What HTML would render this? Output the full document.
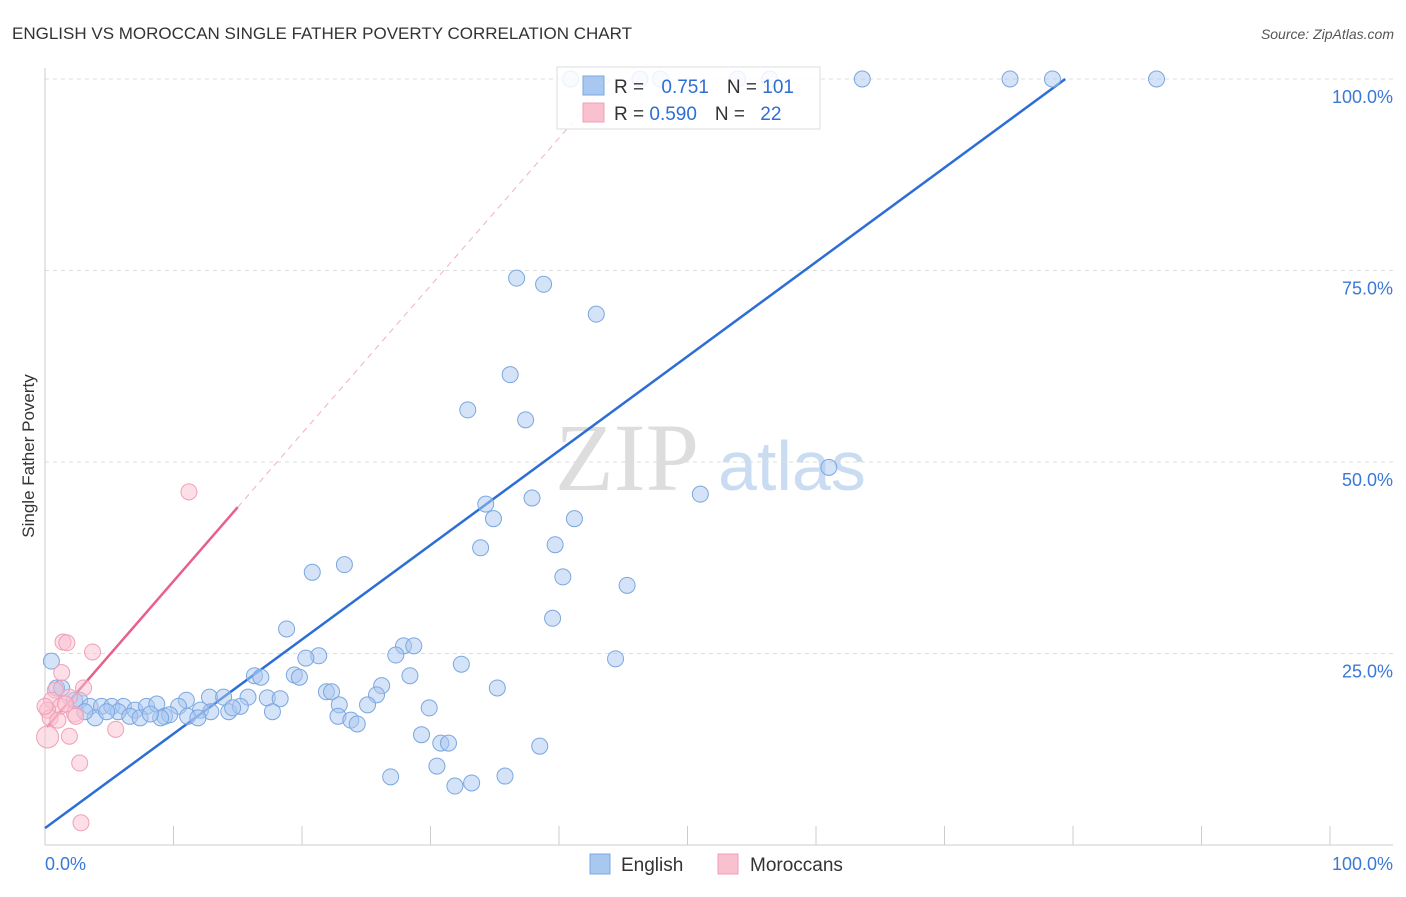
<!DOCTYPE html>
<html><head><meta charset="utf-8"><style>
body{margin:0;background:#fff;font-family:"Liberation Sans",sans-serif}
</style></head><body>
<svg id="chart" width="1406" height="892" xmlns="http://www.w3.org/2000/svg" font-family="Liberation Sans, sans-serif">
<text x="12" y="39" font-size="17" fill="#333">ENGLISH VS MOROCCAN SINGLE FATHER POVERTY CORRELATION CHART</text>
<text x="1394" y="39" font-size="14" fill="#555" font-style="italic" text-anchor="end">Source: ZipAtlas.com</text>
<text transform="translate(34,456) rotate(-90)" font-size="17" fill="#333" text-anchor="middle">Single Father Poverty</text>
<g>
<text x="555" y="490" font-size="96" fill="#ddd" font-family="Liberation Serif, serif">ZIP</text>
<text x="718" y="490" font-size="70" fill="#c9dcf2">atlas</text>
</g>
<g id="grid"></g><g id="axes"></g><g id="lines"></g><g id="pts"></g>
<g>
<rect x="557" y="67" width="263" height="62" fill="#fff" fill-opacity="0.85" stroke="#ddd"/>
<rect x="583" y="76" width="21" height="19" fill="#a9c8f0" stroke="#7aa7e0"/>
<rect x="583" y="103" width="21" height="19" fill="#f9c0d0" stroke="#f0a0b8"/>
<text x="614" y="93" font-size="19" fill="#333">R = <tspan fill="#2d6ed6" dx="12">0.751</tspan><tspan dx="18" fill="#333">N = </tspan><tspan fill="#2d6ed6">101</tspan></text>
<text x="614" y="120" font-size="19" fill="#333">R = <tspan fill="#2d6ed6">0.590</tspan><tspan dx="18" fill="#333">N = </tspan><tspan fill="#2d6ed6" dx="10">22</tspan></text>
</g>
<g>
<rect x="590" y="854" width="20" height="20" fill="#a9c8f0" stroke="#7aa7e0"/>
<text x="621" y="871" font-size="19" fill="#333">English</text>
<rect x="718" y="854" width="20" height="20" fill="#f9c0d0" stroke="#f0a0b8"/>
<text x="750" y="871" font-size="19" fill="#333">Moroccans</text>
</g>
</svg>
<script>
const blueX=[40.9,46.3,47.9,53.9,56.4,63.6,75.1,78.4,86.5,36.7,38.8,42.9,36.2,32.9,37.4,61.0,51.0,37.9,34.3,34.9,41.2,33.9,39.7,40.3,45.3,20.8,23.3,39.5,18.8,44.4,32.4,27.9,28.7,27.3,21.3,20.3,19.4,19.8,16.3,16.8,28.4,26.2,35.2,25.8,21.9,22.3,17.3,18.3,15.8,12.8,13.9,11.0,22.9,25.1,29.9,22.8,23.8,24.3,29.3,30.8,31.4,38.5,30.5,26.9,35.8,31.9,33.2,0.5,0.9,1.3,2.3,2.7,3.5,4.4,5.2,6.1,7.0,7.9,8.7,10.4,12.1,12.9,14.3,15.2,17.7,3.9,5.7,6.6,7.4,9.3,9.7,11.1,11.9,9.0,8.2,4.8,3.1,14.6];
const blueY=[100,100,100,100,100,100,100,100,100,74.0,73.2,69.3,61.4,56.8,55.5,49.3,45.8,45.3,44.5,42.6,42.6,38.8,39.2,35.0,33.9,35.6,36.6,29.6,28.2,24.3,23.6,26.0,26.0,24.8,24.7,24.4,22.2,21.9,22.1,21.9,22.1,20.8,20.5,19.6,20.0,20.0,19.2,19.1,19.3,19.3,19.3,18.9,18.3,18.3,17.9,16.8,16.3,15.8,14.4,13.3,13.3,12.9,10.3,8.9,9.0,7.7,8.1,24.0,20.5,20.5,18.9,18.9,18.1,18.1,18.1,18.1,17.6,18.1,18.4,18.1,17.6,17.4,17.4,18.1,17.4,16.6,17.4,16.8,16.6,16.8,17.0,16.8,16.6,16.6,17.1,17.4,17.4,17.9];
const pinkX=[11.2,1.4,1.7,3.7,1.3,0.8,3.0,0.5,1.9,1.2,0.2,2.3,0.4,1.0,5.5,1.9,0.2,2.7,2.8,0,1.6,2.4];
const pinkY=[46.1,26.5,26.4,25.2,22.5,20.2,20.5,18.9,19.3,18.1,17.6,17.1,16.6,16.3,15.1,14.2,14.1,10.7,2.9,18.1,18.4,16.8];
const yTicks=[25,50,75,100];
const yTickLabels=["25.0%","50.0%","75.0%","100.0%"];
const blueTrend=[0,2.2,79.4,100];
const pinkTrend=[0.15,15.4,15.0,44.1,44.0,100];
const X=v=>45+v*12.85, Y=v=>845-v*7.66;
const NS="http://www.w3.org/2000/svg";
function mk(p,t,a){const e=document.createElementNS(NS,t);for(const k in a)e.setAttribute(k,a[k]);document.getElementById(p).appendChild(e);return e;}
yTicks.forEach((t,i)=>{
 const l=mk('grid','line',{x1:45,x2:1393,y1:Y(t),y2:Y(t),stroke:'#ddd','stroke-dasharray':'4,4'});
 
 
 const tx=mk('axes','text',{x:1393,y:Y(t)+24,'font-size':18,fill:'#3a78d8','text-anchor':'end'});
 tx.textContent=yTickLabels[i];
 
 
});
const ax=mk('axes','line',{x1:45,x2:45,y1:68,y2:845,stroke:'#ccc'});


const bx=mk('axes','line',{x1:45,x2:1393,y1:845,y2:845,stroke:'#ccc'});


for(let i=0;i<=10;i++){const t=mk('axes','line',{x1:X(i*10),x2:X(i*10),y1:826,y2:845,stroke:'#ccc'});
 
 }
let t0=mk('axes','text',{x:45,y:870,'font-size':18,fill:'#3a78d8'});t0.textContent='0.0%';


let t1=mk('axes','text',{x:1393,y:870,'font-size':18,fill:'#3a78d8','text-anchor':'end'});t1.textContent='100.0%';


blueX.forEach((v,i)=>{const c=mk('pts','circle',{cx:X(v),cy:Y(blueY[i]),r:8,fill:'#a9c8f0','fill-opacity':0.5,stroke:'#7aa7e0'});
 
 });
pinkX.forEach((v,i)=>{const c=mk('pts','circle',{cx:X(v),cy:Y(pinkY[i]),r:i==16?11:8,fill:'#f9c0d0','fill-opacity':0.5,stroke:'#f0a0b8'});
 
 });
const bl=mk('lines','line',{x1:X(blueTrend[0]),y1:Y(blueTrend[1]),x2:X(blueTrend[2]),y2:Y(blueTrend[3]),stroke:'#2d6ed6','stroke-width':2.5});


const pd=mk('lines','line',{x1:X(pinkTrend[2]),y1:Y(pinkTrend[3]),x2:X(pinkTrend[4]),y2:Y(pinkTrend[5]),stroke:'#f0b0c0','stroke-width':1,'stroke-dasharray':'6,5'});


const pl=mk('lines','line',{x1:X(pinkTrend[0]),y1:Y(pinkTrend[1]),x2:X(pinkTrend[2]),y2:Y(pinkTrend[3]),stroke:'#e8608a','stroke-width':2.5});


</script>
</body></html>
